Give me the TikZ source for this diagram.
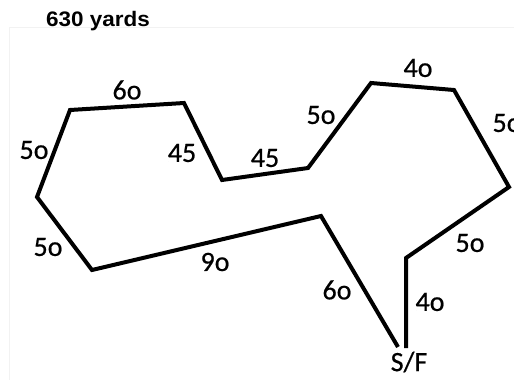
\documentclass[tikz,border=0pt]{standalone}
\usepackage{fontspec}
\setmainfont{Carlito}[FakeBold=0.6]
\newfontfamily\titlefont{Liberation Sans}[FakeStretch=1.07]
\begin{document}
\begin{tikzpicture}[x=1pt,y=-1pt,
  seglabel/.style={font=\fontsize{28}{28}\selectfont, inner sep=0pt, anchor=center},
  track/.style={line width=4pt, line join=miter, black}]
\useasboundingbox (0,0) rectangle (514,380);
\clip (0,0) rectangle (514,380);
\fill[white] (0,0) rectangle (514,380);
% faint frame lines
\draw[black!5, line width=0.8pt] (9,380) -- (9,27) -- (514,27);
% title
\node[font=\titlefont\bfseries\fontsize{21}{21}\selectfont, anchor=base west, inner sep=0pt] (title) at (46,26) {630 yards};
% vertices
\coordinate (p1) at (406,348);
\coordinate (p2) at (406,258);
\coordinate (p3) at (509,187);
\coordinate (p4) at (454,90);
\coordinate (p5) at (371,83);
\coordinate (p6) at (308,168);
\coordinate (p7) at (222,180);
\coordinate (p8) at (184,103);
\coordinate (p9) at (70,110);
\coordinate (p10) at (37,197);
\coordinate (p11) at (92,270);
\coordinate (p12) at (321,216);
\coordinate (p13) at (398,347);
\draw[track] (p1) -- (p2) -- (p3) -- (p4) -- (p5) -- (p6) -- (p7) -- (p8) -- (p9) -- (p10) -- (p11) -- (p12) -- (p13);
% labels
\node[seglabel] (l1) at (127,90) {6o};
\node[seglabel] (l2) at (34,150) {5o};
\node[seglabel] (l3) at (182,153) {45};
\node[seglabel] (l4) at (265,158) {45};
\node[seglabel] (l5) at (321,115) {5o};
\node[seglabel] (l6) at (418,68) {4o};
\node[seglabel] (l7) at (507,123) {5o};
\node[seglabel] (l8) at (470,243) {5o};
\node[seglabel] (l9) at (48,247) {5o};
\node[seglabel] (l10) at (215,262) {9o};
\node[seglabel] (l11) at (337,290) {6o};
\node[seglabel] (l12) at (430,302) {4o};
\node[seglabel] (sf) at (409,362) {S/F};
\end{tikzpicture}
\end{document}
